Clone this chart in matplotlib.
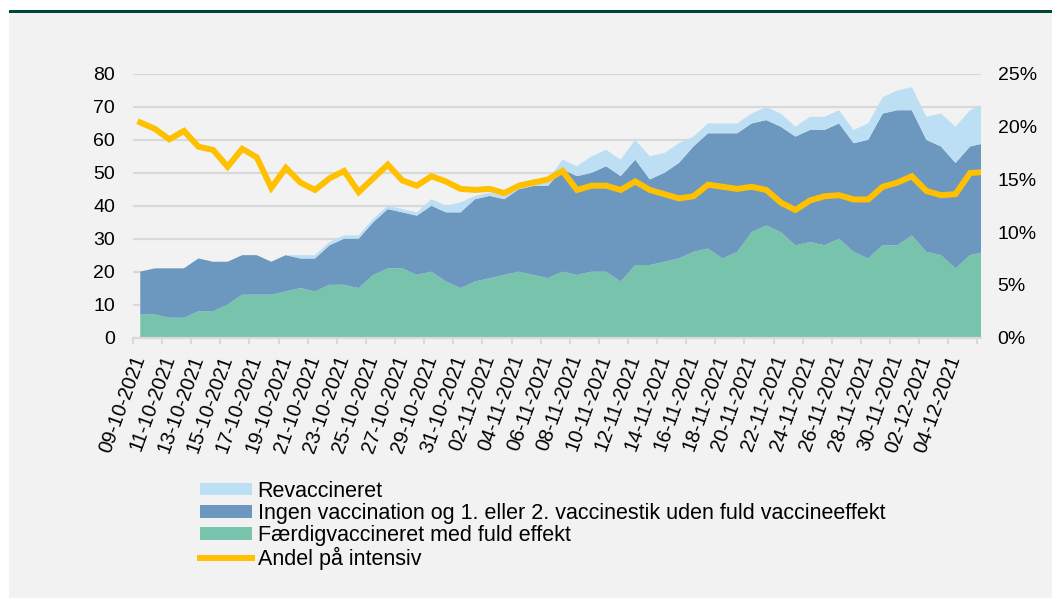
import matplotlib
matplotlib.use("Agg")
import matplotlib.pyplot as plt
import numpy as np
import pandas as pd
from matplotlib.lines import Line2D
from matplotlib.patches import Patch, Rectangle
from matplotlib.ticker import FixedLocator, FuncFormatter

plt.rcParams["font.family"] = ["Liberation Sans", "DejaVu Sans"]

# daglige kategorier 09-10-2021 .. 06-12-2021
dates = pd.date_range("2021-10-09", "2021-12-06", freq="D")
date_labels = [d.strftime("%d-%m-%Y") for d in dates]

faerdig = [7, 7, 6, 6, 8, 8, 10, 13, 13, 13, 14, 15, 14, 16, 16, 15, 19, 21, 21, 19,
           20, 17, 15, 17, 18, 19, 20, 19, 18, 20, 19, 20, 20, 17, 22, 22, 23, 24, 26, 27,
           24, 26, 32, 34, 32, 28, 29, 28, 30, 26, 24, 28, 28, 31, 26, 25, 21, 25, 26]
# top af blaa flade (faerdig + ingen)
blue_top = [20, 21, 21, 21, 24, 23, 23, 25, 25, 23, 25, 24, 24, 28, 30, 30, 35, 39, 38, 37,
            40, 38, 38, 42, 43, 42, 45, 46, 46, 51, 49, 50, 52, 49, 54, 48, 50, 53, 58, 62,
            62, 62, 65, 66, 64, 61, 63, 63, 65, 59, 60, 68, 69, 69, 60, 58, 53, 58, 59]
# samlet top (inkl. revaccineret)
total = [20, 21, 21, 21, 24, 23, 23, 25, 25, 23, 25, 25, 25, 29, 31, 31, 36, 40, 39, 38,
         42, 40, 41, 43, 44, 43, 47, 48, 48, 54, 52, 55, 57, 54, 60, 55, 56, 59, 61, 65,
         65, 65, 68, 70, 68, 64, 67, 67, 69, 63, 65, 73, 75, 76, 67, 68, 64, 69, 71]
andel = [20.4, 19.8, 18.8, 19.6, 18.1, 17.8, 16.2, 17.9, 17.1, 14.2, 16.1, 14.7, 14.0, 15.1,
         15.8, 13.8, 15.1, 16.4, 14.9, 14.4, 15.3, 14.8, 14.1, 14.0, 14.1, 13.7, 14.4, 14.7,
         15.0, 15.8, 14.0, 14.4, 14.4, 14.0, 14.8, 14.0, 13.6, 13.2, 13.4, 14.5, 14.3, 14.1,
         14.3, 14.0, 12.8, 12.1, 13.0, 13.4, 13.5, 13.1, 13.1, 14.3, 14.7, 15.3, 13.9, 13.5,
         13.6, 15.6, 15.7]

ingen = [b - f for b, f in zip(blue_top, faerdig)]
revac = [t - b for t, b in zip(total, blue_top)]

C_REV = "#BDDFF4"
C_INGEN = "#6C98BF"
C_FAERDIG = "#78C3AC"
C_ANDEL = "#FFC000"
BG = "#F2F2F2"
GRID = "#D9D9D9"

fig = plt.figure(figsize=(10.52, 5.98), dpi=100)
fig.patch.set_facecolor("white")
fig.add_artist(Rectangle((9 / 1052, 0), 1, 1 - 13 / 598, transform=fig.transFigure,
                         facecolor=BG, edgecolor="none", zorder=0))
fig.add_artist(Rectangle((9 / 1052, 1 - 13 / 598), 1, 3 / 598, transform=fig.transFigure,
                         facecolor="#00473A", edgecolor="none", zorder=0))

ax = fig.add_axes([133 / 1052, 1 - 337.5 / 598, (981 - 133) / 1052, (337.5 - 74) / 598])
ax.set_facecolor("none")
x = np.arange(len(dates))
ax.stackplot(x, faerdig, ingen, revac, colors=[C_FAERDIG, C_INGEN, C_REV], linewidth=0)
ax.set_xlim(-0.5, 57.75)
ax.set_ylim(0, 80)
ax.set_yticks(range(0, 81, 10))
ax.set_axisbelow(True)
ax.grid(axis="y", color=GRID, linewidth=1.6)
for s in ["top", "right", "left"]:
    ax.spines[s].set_visible(False)
ax.spines["bottom"].set_color(GRID)
ax.spines["bottom"].set_linewidth(1.6)
ax.tick_params(axis="y", length=0, pad=13, labelsize=14, colors="black")

# tick-streger for hver anden dag, etiketter midt i kategorien
ax.xaxis.set_major_locator(FixedLocator(np.arange(-0.5, 58, 2)))
ax.xaxis.set_major_formatter(FuncFormatter(lambda v, p: ""))
ax.tick_params(axis="x", which="major", length=4, width=1.4, color=GRID)
ax.set_xticks(x[:57:2], minor=True)
ax.set_xticklabels(date_labels[:57:2], minor=True, rotation=70, ha="right", va="center",
                   rotation_mode="anchor", fontsize=14.5)
ax.tick_params(axis="x", which="minor", length=0, pad=13)

ax2 = ax.twinx()
ax2.plot(x, np.array(andel) / 100, color=C_ANDEL, linewidth=4.3, solid_joinstyle="miter")
ax2.set_ylim(0, 0.25)
ax2.set_yticks(np.arange(0, 0.26, 0.05))
ax2.yaxis.set_major_formatter(FuncFormatter(lambda v, p: f"{v:.0%}"))
ax2.tick_params(axis="y", length=0, pad=12, labelsize=14)
for s in ax2.spines.values():
    s.set_visible(False)

handles = [Patch(facecolor=C_REV, edgecolor="none"),
           Patch(facecolor=C_INGEN, edgecolor="none"),
           Patch(facecolor=C_FAERDIG, edgecolor="none"),
           Line2D([], [], color=C_ANDEL, linewidth=4.3)]
labels = ["Revaccineret",
          "Ingen vaccination og 1. eller 2. vaccinestik uden fuld vaccineeffekt",
          "Færdigvaccineret med fuld effekt",
          "Andel på intensiv"]
fig.legend(handles, labels, loc="upper left", bbox_to_anchor=(200 / 1052, 1 - 481 / 598),
           frameon=False, fontsize=15.5, handlelength=2.4, handleheight=0.5,
           handletextpad=0.28, labelspacing=0.05, borderpad=0, borderaxespad=0)

fig.savefig("out.png", dpi=100, facecolor=fig.get_facecolor())
